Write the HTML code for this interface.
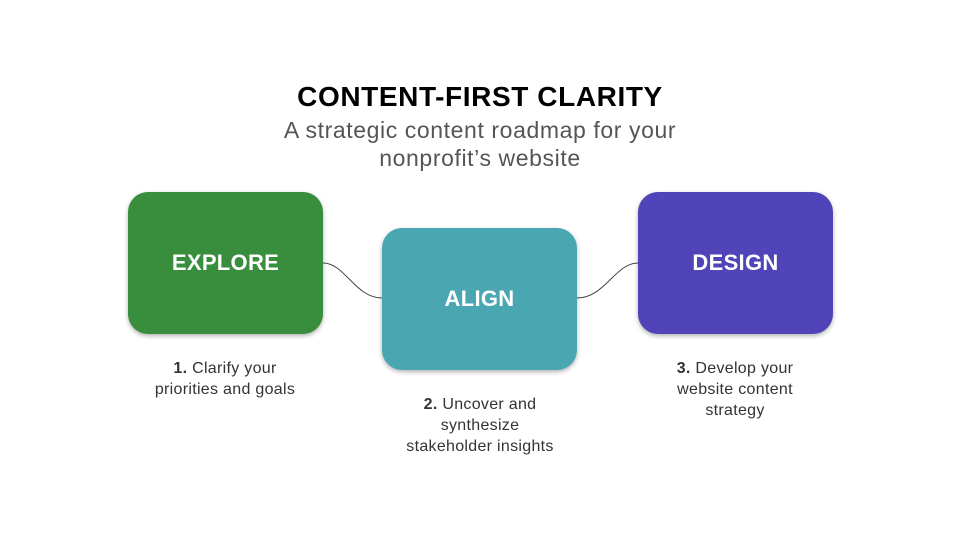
<!DOCTYPE html>
<html><head><style>
body{margin:0;width:960px;height:540px;background:#fff;position:relative;font-family:"Liberation Sans",sans-serif;overflow:hidden}
.t{position:absolute;left:0;width:960px;text-align:center}
.b{position:absolute;width:195px;height:142px;border-radius:20px;color:#fff;font-weight:bold;font-size:22px;letter-spacing:0.3px;display:flex;align-items:center;justify-content:center;box-shadow:0 2px 5px rgba(0,0,0,.3)}
.l{position:absolute;width:240px;text-align:center;font-size:16px;letter-spacing:0.3px;line-height:21px;color:#333}
</style></head><body>
<div class="t" style="top:81px;font-size:28px;letter-spacing:0.6px;font-weight:bold;color:#000">CONTENT-FIRST CLARITY</div>
<div class="t" style="top:116px;font-size:23px;letter-spacing:0.6px;line-height:28px;color:#555">A strategic content roadmap for your<br>nonprofit’s website</div>
<svg width="960" height="540" style="position:absolute;left:0;top:0">
<path d="M323 263 C345 263,355 298,382 298" fill="none" stroke="#444" stroke-width="1"/>
<path d="M577 298 C605 298,615 263,638 263" fill="none" stroke="#444" stroke-width="1"/>
</svg>
<div class="b" style="left:128px;top:192px;background:#388e3c">EXPLORE</div>
<div class="b" style="left:382px;top:228px;background:#4aa7b2">ALIGN</div>
<div class="b" style="left:638px;top:192px;background:#5044b8">DESIGN</div>
<div class="l" style="left:105px;top:358px"><b>1.</b> Clarify your<br>priorities and goals</div>
<div class="l" style="left:360px;top:394px"><b>2.</b> Uncover and<br>synthesize<br>stakeholder insights</div>
<div class="l" style="left:615px;top:358px"><b>3.</b> Develop your<br>website content<br>strategy</div>
</body></html>
